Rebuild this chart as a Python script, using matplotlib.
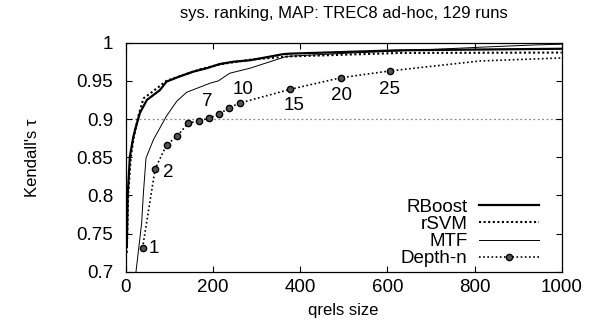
import numpy as np
import matplotlib
matplotlib.use("Agg")
import matplotlib.pyplot as plt

plt.rcParams['font.family'] = ['Liberation Sans', 'DejaVu Sans']

# ---- data ----
rboost_x = [3, 5, 10, 18, 22, 33, 49, 79, 94, 125, 155, 186, 216, 247, 286, 362, 378, 514, 629, 1000]
rboost_y = [0.733, 0.80, 0.851, 0.877, 0.886, 0.908, 0.925, 0.938, 0.949, 0.956, 0.962, 0.9665,
            0.972, 0.975, 0.977, 0.985, 0.9856, 0.988, 0.990, 0.992]

rsvm_x = [3, 6, 12, 18, 29, 41, 60, 94, 130, 170, 220, 290, 378, 629, 1000]
rsvm_y = [0.725, 0.80, 0.85, 0.873, 0.903, 0.927, 0.935, 0.950, 0.957, 0.965, 0.972, 0.978,
          0.982, 0.9865, 0.987]

mtf_x = [24, 37, 41, 47, 64, 94, 117, 140, 194, 213, 239, 285, 369, 500, 700, 812, 940, 1000]
mtf_y = [0.70, 0.764, 0.803, 0.849, 0.873, 0.904, 0.923, 0.935, 0.947, 0.950, 0.960, 0.9665,
         0.982, 0.986, 0.991, 0.994, 0.997, 0.998]

depth_x = [39, 68, 94, 119, 144, 168, 191, 214, 238, 262, 378, 493, 606, 812, 1000]
depth_y = [0.731, 0.835, 0.866, 0.878, 0.895, 0.897, 0.9015, 0.906, 0.915, 0.921, 0.939,
           0.954, 0.963, 0.976, 0.980]
depth_marked = list(range(13))   # points drawn with a marker
depth_labels = ["1", "2", "7", "10", "15", "20", "25"]
depth_label_idx = [0, 1, 6, 9, 10, 11, 12]
label_offsets = [(11, 0), (13, -4), (-2, 16), (3, 14), (4, -16), (1, -18), (0, -19)]

fig = plt.figure(figsize=(5.92, 3.28), dpi=100)
ax = fig.add_axes([0.212, 0.171, 0.737, 0.699])

ax.axhline(0.9, color='#888888', lw=0.9, ls=(0, (1.5, 2)), zorder=1)

ax.plot(rboost_x, rboost_y, color='black', lw=1.6, label='RBoost', zorder=3)
ax.plot(rsvm_x, rsvm_y, color='black', lw=1.5, ls=(0, (1, 1.2)), label='rSVM', zorder=3)
ax.plot(mtf_x, mtf_y, color='black', lw=0.7, label='MTF', zorder=3)
ax.plot(depth_x, depth_y, color='black', lw=1.2, ls=(0, (1, 1.5)), marker='o',
        markevery=depth_marked, markersize=4.5, markerfacecolor='#555555',
        markeredgecolor='black', markeredgewidth=1.0, label='Depth-n', zorder=4)

for lab, i, off in zip(depth_labels, depth_label_idx, label_offsets):
    ax.annotate(lab, (depth_x[i], depth_y[i]), xytext=off, textcoords='offset pixels',
                ha='center', va='center', fontsize=13.5)

ax.set_xlim(0, 1000)
ax.set_ylim(0.7, 1.0)
ax.set_xticks(np.arange(0, 1001, 200))
ax.set_yticks([0.7, 0.75, 0.8, 0.85, 0.9, 0.95, 1.0])
ax.set_yticklabels(["0.7", "0.75", "0.8", "0.85", "0.9", "0.95", "1"])
ax.tick_params(direction='in', top=True, right=True, labelsize=13.5, length=4, width=0.8)
ax.tick_params(axis='y', pad=9)
ax.tick_params(axis='x', pad=5)
for s in ax.spines.values():
    s.set_linewidth(0.9)

ax.set_title("sys. ranking, MAP: TREC8 ad-hoc, 129 runs", fontsize=12, pad=18)
ax.set_xlabel("qrels size", fontsize=12, labelpad=5)
ax.set_ylabel("Kendall's τ", fontsize=12, labelpad=26)

ax.legend(loc='lower right', bbox_to_anchor=(0.982, -0.045), frameon=False, markerfirst=False,
          fontsize=13.5, handlelength=3.2, handletextpad=0.6, labelspacing=0.0, borderpad=0.3)

fig.savefig("out.png", dpi=100)
